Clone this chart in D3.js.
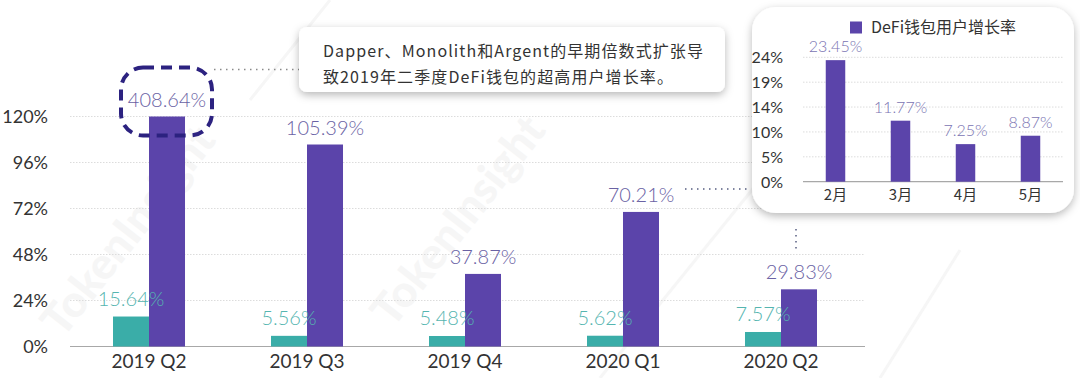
<!DOCTYPE html>
<html><head><meta charset="utf-8">
<script src="https://cdn.jsdelivr.net/npm/d3@7"></script>
<style>
html,body{margin:0;padding:0;background:#fff;}
svg{display:block;}
</style></head>
<body>
<svg id="c" width="1080" height="378"></svg>
<script>
// ---- data ----
const categories = ["2019 Q2","2019 Q3","2019 Q4","2020 Q1","2020 Q2"];
const seriesNames = ["teal","purple"];
const tealValues = [15.64, 5.56, 5.48, 5.62, 7.57];
const purpleValues = [408.64, 105.39, 37.87, 70.21, 29.83];
const mainTicks = [0, 24, 48, 72, 96, 120];
const mainTickLabels = ["0%","24%","48%","72%","96%","120%"];

const insetCategories = ["2月","3月","4月","5月"];
const insetValues = [23.45, 11.77, 7.25, 8.87];
const insetTicks = [0, 4.8, 9.6, 14.4, 19.2, 24];
const insetTickLabels = ["0%","5%","10%","14%","19%","24%"];
const insetLegend = "DeFi钱包用户增长率";
const calloutLines = ["Dapper、Monolith和Argent的早期倍数式扩张导","致2019年二季度DeFi钱包的超高用户增长率。"];

const TEAL = "#3aada8", PURPLE = "#5b44aa";
const TEAL_TXT = "#55b5b0", PURPLE_TXT = "#6a62a4", INSET_TXT = "#7a73b2";
const FONT = "Lato, 'Noto Sans CJK SC', sans-serif";

const svg = d3.select("#c");
const defs = svg.append("defs");
const f = defs.append("filter").attr("id","sh").attr("x","-10%").attr("y","-10%").attr("width","120%").attr("height","130%");
f.append("feDropShadow").attr("dx",0).attr("dy",3).attr("stdDeviation",4).attr("flood-color","#000").attr("flood-opacity",0.28);

// watermark
const wm = svg.append("g").attr("fill","#f6f6f6").attr("font-family","Lato, sans-serif").attr("font-weight","900").attr("font-size",44);
[[140,240],[470,230]].forEach(([x,y])=>{
  wm.append("text").attr("transform",`translate(${x},${y}) rotate(-52)`).attr("text-anchor","middle").text("TokenInsight");
});
svg.append("g").attr("stroke","#f6f6f6").attr("stroke-width",3)
  .selectAll("line").data([[250,100,330,0],[600,378,760,180],[880,378,960,250]]).join("line")
  .attr("x1",d=>d[0]).attr("y1",d=>d[1]).attr("x2",d=>d[2]).attr("y2",d=>d[3]);

// ---- main chart ----
const y = d3.scaleLinear().domain([0,120]).range([346.5,116.5]);
const x0 = d3.scaleBand().domain(categories).range([70,860]).paddingInner(0.5443).paddingOuter(0.2722);
const x1 = d3.scaleBand().domain(seriesNames).range([0, x0.bandwidth()]);

const grid = svg.append("g");
grid.selectAll("line").data(mainTicks.filter(t=>t>0)).join("line")
  .attr("x1",70).attr("x2",865).attr("y1",d=>y(d)).attr("y2",d=>y(d))
  .attr("stroke","#dcdcdc").attr("stroke-width",1).attr("stroke-dasharray","1.5,1.5");
svg.append("line").attr("x1",70).attr("x2",865).attr("y1",y(0)).attr("y2",y(0)).attr("stroke","#a8a8a8").attr("stroke-width",1.2);

const yAxis = d3.axisLeft(y).tickValues(mainTicks).tickFormat((d,i)=>mainTickLabels[i]).tickSize(0).tickPadding(0);
const ya = svg.append("g").attr("transform","translate(48,0)").call(yAxis);
ya.select(".domain").remove();
ya.selectAll("text").attr("font-family",FONT).attr("font-size",18).attr("fill","#333").attr("dy","0.34em");

const xAxis = d3.axisBottom(x0).tickSize(0).tickPadding(0);
const xa = svg.append("g").attr("transform",`translate(0,${y(0)})`).call(xAxis);
xa.select(".domain").remove();
xa.selectAll("text").attr("font-family",FONT).attr("font-size",19).attr("fill","#333").attr("dy","0").attr("y",21.5);

const rows = categories.map((c,i)=>({c, teal:tealValues[i], purple:purpleValues[i]}));
const cap = v => Math.min(v, y.domain()[1]);
const g = svg.append("g");
g.selectAll("rect.t").data(rows).join("rect").attr("class","t")
  .attr("x",d=>x0(d.c)+x1("teal")).attr("width",x1.bandwidth())
  .attr("y",d=>y(cap(d.teal))).attr("height",d=>y(0)-y(cap(d.teal))).attr("fill",TEAL);
g.selectAll("rect.p").data(rows).join("rect").attr("class","p")
  .attr("x",d=>x0(d.c)+x1("purple")).attr("width",x1.bandwidth())
  .attr("y",d=>y(cap(d.purple))).attr("height",d=>y(0)-y(cap(d.purple))).attr("fill",PURPLE);
g.selectAll("text.p").data(rows).join("text").attr("class","p")
  .attr("x",d=>x0(d.c)+x1("purple")+x1.bandwidth()/2).attr("y",d=>y(cap(d.purple))-10)
  .attr("text-anchor","middle").attr("font-family",FONT).attr("font-weight",300).attr("font-size",20).attr("fill",PURPLE_TXT)
  .text(d=>d.purple.toFixed(2)+"%");
g.selectAll("text.t").data(rows).join("text").attr("class","t")
  .attr("x",d=>x0(d.c)+x1("teal")+x1.bandwidth()/2).attr("y",d=>y(cap(d.teal))-11)
  .attr("text-anchor","middle").attr("font-family",FONT).attr("font-weight",300).attr("font-size",20).attr("fill",TEAL_TXT)
  .text(d=>d.teal.toFixed(2)+"%");

// dashed highlight around first purple label
const hx = x0(categories[0])+x1("purple")+x1.bandwidth()/2;
svg.append("rect").attr("x",hx-46).attr("y",y(120)-49).attr("width",91).attr("height",68).attr("rx",22)
  .attr("fill","none").attr("stroke","#2c2280").attr("stroke-width",4).attr("stroke-dasharray","11,7");
svg.append("line").attr("x1",hx+47).attr("x2",300).attr("y1",y(120)-47).attr("y2",y(120)-47)
  .attr("stroke","#8a8a8a").attr("stroke-width",1.5).attr("stroke-dasharray","1.5,4.5");

// dotted connectors to inset
const q1x = x0(categories[3])+x1("purple")+x1.bandwidth()/2;
svg.append("line").attr("x1",q1x+44).attr("x2",748).attr("y1",189).attr("y2",189)
  .attr("stroke","#555c80").attr("stroke-width",1.5).attr("stroke-dasharray","1.5,4.5");
svg.append("line").attr("x1",796).attr("x2",796).attr("y1",229).attr("y2",253)
  .attr("stroke","#555c80").attr("stroke-width",1.5).attr("stroke-dasharray","1.5,4.5");

// callout box
svg.append("rect").attr("x",299).attr("y",27).attr("width",426).attr("height",65).attr("rx",8)
  .attr("fill","#fff").attr("filter","url(#sh)");
svg.append("g").selectAll("text").data(calloutLines).join("text")
  .attr("x",323).attr("y",(d,i)=>57+i*25.5)
  .attr("font-family","'Noto Sans CJK SC', sans-serif").attr("font-size",16).attr("letter-spacing",1.1).attr("fill","#333")
  .text(d=>d);

// ---- inset ----
svg.append("rect").attr("x",752).attr("y",7).attr("width",322).attr("height",206).attr("rx",24)
  .attr("fill","#fff").attr("filter","url(#sh)");
const iy = d3.scaleLinear().domain([0,24]).range([181.7,57.3]);
const ix = d3.scaleBand().domain(insetCategories).range([803,1063]).paddingInner(0.7).paddingOuter(0.35);
svg.append("g").selectAll("line").data(insetTicks.filter(t=>t>0)).join("line")
  .attr("x1",803).attr("x2",1063).attr("y1",d=>iy(d)).attr("y2",d=>iy(d))
  .attr("stroke","#dcdcdc").attr("stroke-width",1).attr("stroke-dasharray","1.5,1.5");
svg.append("line").attr("x1",803).attr("x2",1063).attr("y1",iy(0)).attr("y2",iy(0)).attr("stroke","#a8a8a8").attr("stroke-width",1.2);
const iya = svg.append("g").attr("transform","translate(783,0)")
  .call(d3.axisLeft(iy).tickValues(insetTicks).tickFormat((d,i)=>insetTickLabels[i]).tickSize(0).tickPadding(0));
iya.select(".domain").remove();
iya.selectAll("text").attr("font-family",FONT).attr("font-size",16).attr("fill","#333").attr("dy","0.34em");
const ixa = svg.append("g").attr("transform",`translate(0,${iy(0)})`).call(d3.axisBottom(ix).tickSize(0).tickPadding(0));
ixa.select(".domain").remove();
ixa.selectAll("text").attr("font-family","'Noto Sans CJK SC', sans-serif").attr("font-size",15).attr("fill","#333").attr("dy","0").attr("y",18.5);
const irows = insetCategories.map((c,i)=>({c, v:insetValues[i]}));
svg.append("g").selectAll("rect").data(irows).join("rect")
  .attr("x",d=>ix(d.c)).attr("width",ix.bandwidth()).attr("y",d=>iy(d.v)).attr("height",d=>iy(0)-iy(d.v)).attr("fill",PURPLE);
svg.append("g").selectAll("text").data(irows).join("text")
  .attr("x",d=>ix(d.c)+ix.bandwidth()/2).attr("y",d=>iy(d.v)-8)
  .attr("text-anchor","middle").attr("font-family",FONT).attr("font-weight",300).attr("font-size",16).attr("fill",INSET_TXT)
  .text(d=>d.v.toFixed(2)+"%");
svg.append("rect").attr("x",850).attr("y",21.5).attr("width",12).attr("height",12).attr("fill",PURPLE);
svg.append("text").attr("x",871).attr("y",33).attr("font-family","'Noto Sans CJK SC', sans-serif")
  .attr("font-size",16).attr("fill","#333").text(insetLegend);
</script>
</body></html>
